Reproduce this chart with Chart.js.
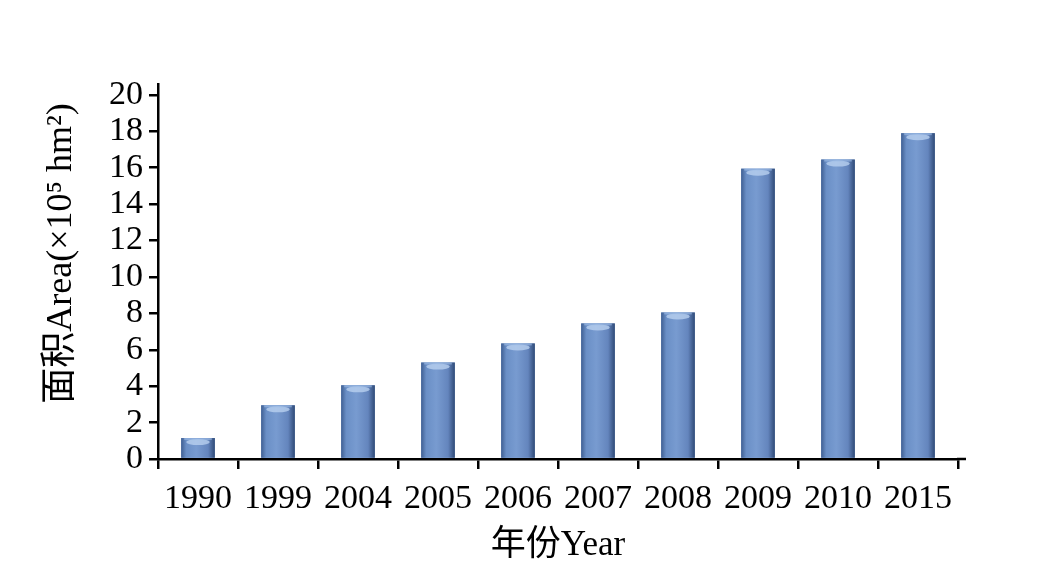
<!DOCTYPE html>
<html>
<head>
<meta charset="utf-8">
<script src="https://cdn.jsdelivr.net/npm/chart.js@4/dist/chart.umd.min.js"></script>
<style>
  html, body { margin: 0; padding: 0; background: #fff; }
  #wrap { width: 1044px; height: 582px; }
</style>
</head>
<body>
<div id="wrap"><canvas id="areaChart" width="1044" height="582"></canvas></div>
<script>
const years = ["1990", "1999", "2004", "2005", "2006", "2007", "2008", "2009", "2010", "2015"];
const areaValues = [1.15, 2.95, 4.05, 5.3, 6.35, 7.45, 8.05, 15.95, 16.45, 17.9];
const yTicks = [0, 2, 4, 6, 8, 10, 12, 14, 16, 18, 20];

const serif = "'Liberation Serif', 'Times New Roman', 'Noto Sans CJK SC', serif";

// paint each bar like the shaded cylinder look of the original
const barShade = {
  id: "barShade",
  afterDatasetsDraw(chart) {
    const ctx = chart.ctx;
    const meta = chart.getDatasetMeta(0);
    meta.data.forEach(bar => {
      const { x, y, base, width } = bar.getProps(["x", "y", "base", "width"], true);
      const l = x - width / 2, r = x + width / 2;
      ctx.save();
      const g = ctx.createLinearGradient(l, 0, r, 0);
      g.addColorStop(0, "#3f5f92");
      g.addColorStop(0.15, "#6a8fc6");
      g.addColorStop(0.45, "#789bd0");
      g.addColorStop(0.8, "#6485bd");
      g.addColorStop(1, "#2f4a76");
      ctx.fillStyle = g;
      ctx.fillRect(l, y, width, base - y);
      // top cap highlight
      ctx.fillStyle = "rgba(190,212,242,0.75)";
      ctx.beginPath();
      ctx.ellipse(x, y + 4, width / 2 - 5, 3, 0, 0, Math.PI * 2);
      ctx.fill();
      ctx.fillStyle = "rgba(160,190,230,0.6)";
      ctx.fillRect(l + 3, y, width - 6, 2);
      ctx.restore();
    });
    // the x axis line runs a bit past the last tick
    const a = chart.chartArea;
    ctx.save();
    ctx.strokeStyle = "#000";
    ctx.lineWidth = 2.5;
    ctx.beginPath();
    ctx.moveTo(a.right - 1, a.bottom);
    ctx.lineTo(a.right + 8, a.bottom);
    ctx.stroke();
    ctx.restore();
  }
};

new Chart(document.getElementById("areaChart"), {
  type: "bar",
  data: {
    labels: years,
    datasets: [{
      data: areaValues,
      backgroundColor: "#6a8fc6",
      borderWidth: 0,
      barPercentage: 0.42,
      categoryPercentage: 1
    }]
  },
  options: {
    responsive: false,
    animation: false,
    layout: { padding: { left: 40, right: 86, top: 84, bottom: 15 } },
    plugins: { legend: { display: false }, tooltip: { enabled: false } },
    scales: {
      x: {
        grid: { drawOnChartArea: false, drawTicks: true, tickLength: 10, color: "#000", lineWidth: 2.5, offset: true },
        border: { color: "#000", width: 2.5 },
        ticks: { color: "#000", font: { family: serif, size: 34 }, padding: 10, maxRotation: 0, autoSkip: false },
        title: { display: true, text: "年份Year", color: "#000", font: { family: serif, size: 35 }, padding: 0 },
        afterFit(scale) { scale.height = 108; }
      },
      y: {
        min: 0,
        max: 20.6,
        afterBuildTicks(scale) { scale.ticks = yTicks.map(v => ({ value: v })); },
        grid: { drawOnChartArea: false, drawTicks: true, tickLength: 9, color: "#000", lineWidth: 2.5 },
        border: { color: "#000", width: 2.5 },
        ticks: { color: "#000", font: { family: serif, size: 34 }, padding: 6, autoSkip: false },
        title: { display: true, text: "\u2003面积Area(×10⁵ hm²)", color: "#000", font: { family: serif, size: 36 }, padding: 0 },
        afterFit(scale) { scale.width = 118; }
      }
    }
  },
  plugins: [barShade]
});
</script>
</body>
</html>
